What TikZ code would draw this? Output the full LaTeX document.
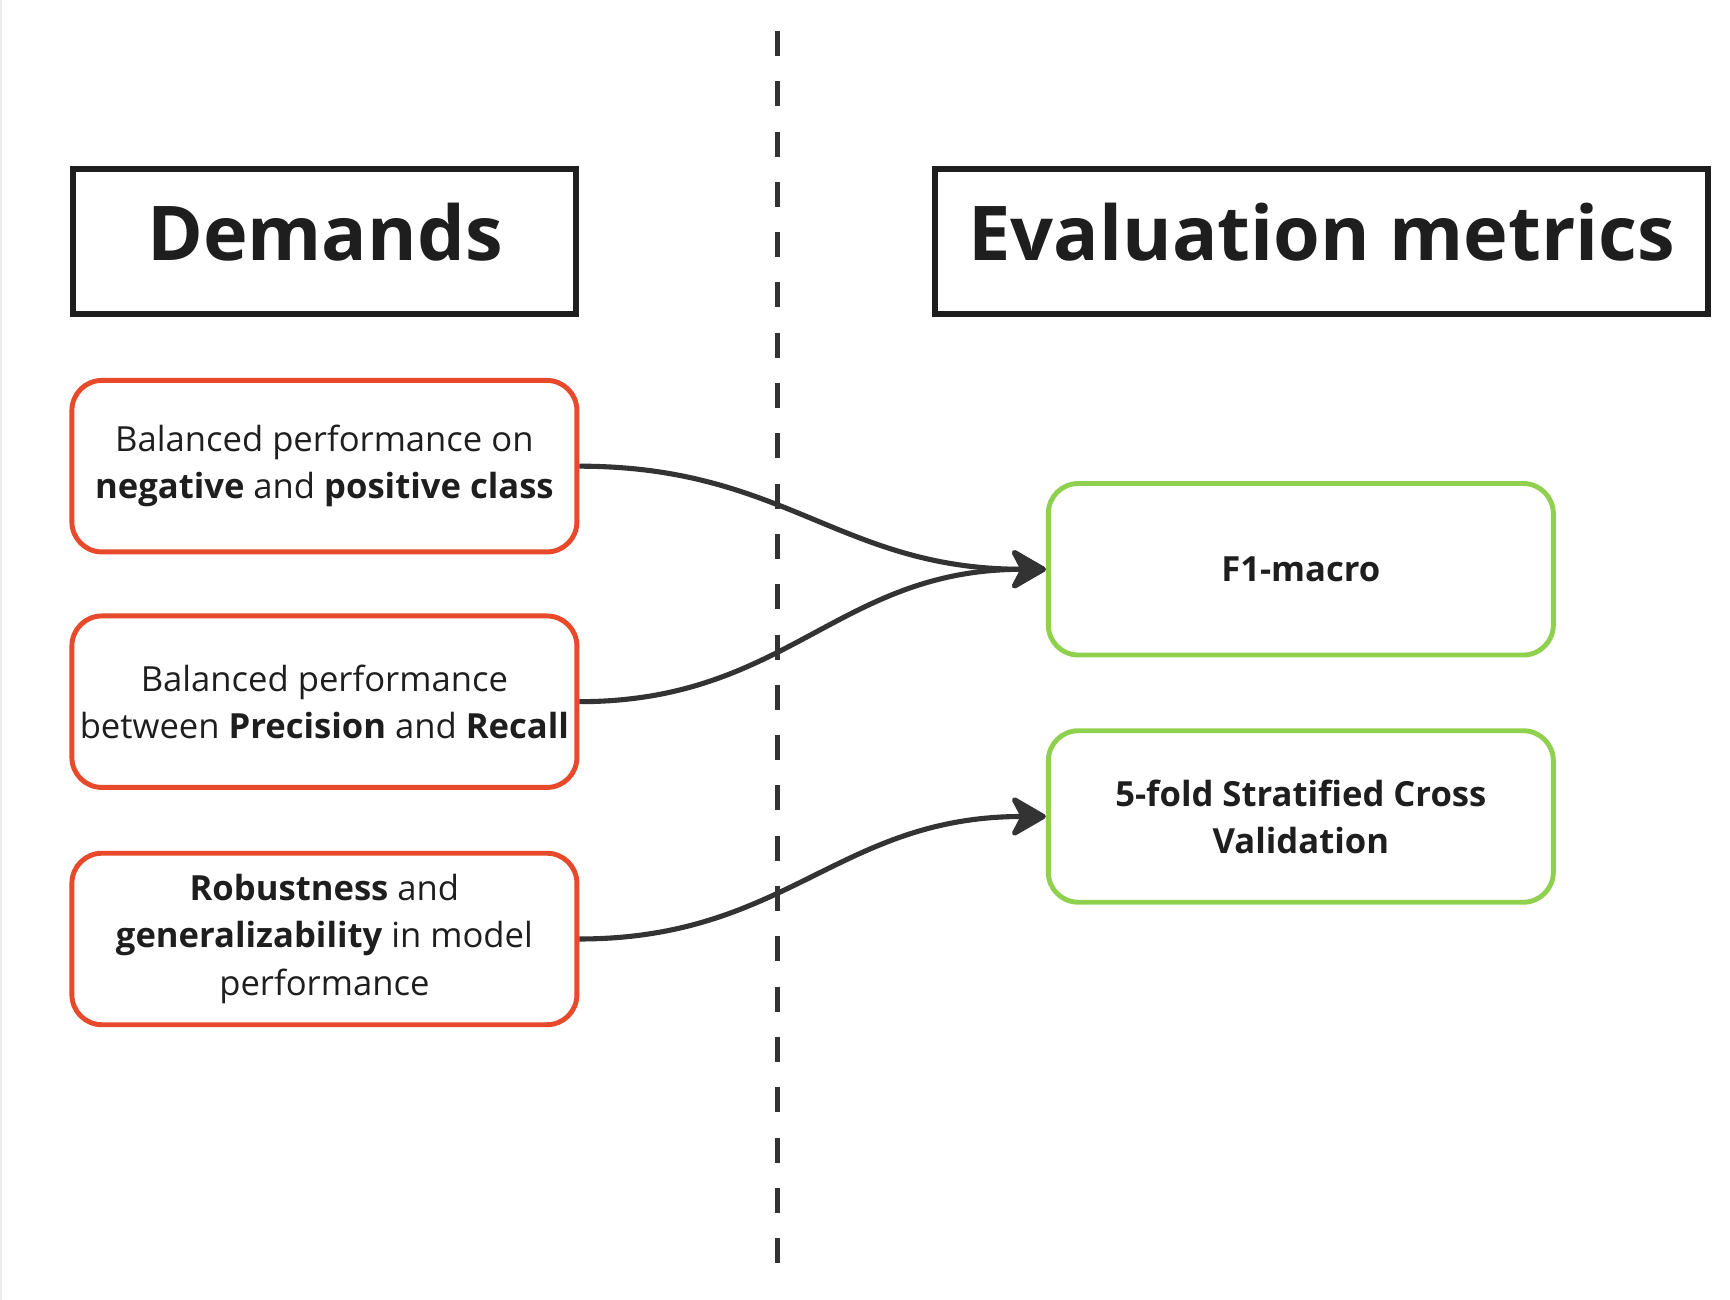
\documentclass[tikz,border=0pt]{standalone}
\usepackage{fontspec}
\setmainfont{Open Sans}
\usetikzlibrary{arrows.meta}
\definecolor{cred}{HTML}{e8492a}
\definecolor{cgreen}{HTML}{8fd14f}
\definecolor{cink}{HTML}{1e1e1e}
\definecolor{cline}{HTML}{333333}
\definecolor{cedge}{HTML}{ececec}

\begin{document}
\begin{tikzpicture}[
    every node/.style={font=\fontsize{9.85}{13.4}\selectfont, text=cink, align=center},
    title/.style={draw=cink, line width=1.7pt, minimum width=5.03cm, minimum height=1.45cm, text depth=5pt,
      font=\fontsize{21.5}{26}\selectfont\bfseries},
    demand/.style={draw=cred, line width=1.4pt, rounded corners=0.3cm, inner xsep=1pt, minimum width=5.05cm, minimum height=1.715cm},
    metric/.style={draw=cgreen, line width=1.4pt, rounded corners=0.3cm, minimum width=5.05cm, minimum height=1.715cm},
    link/.style={draw=cline, line width=1.45pt, -{Stealth[length=4mm, width=4.6mm, inset=1.2mm, round]}}]
  \useasboundingbox (0,0) rectangle (17.3,13);
  \draw[cedge, line width=0.5pt] (0.01,0) -- (0.01,13);
  % split between the two columns
  \draw[cline, line width=1.4pt, dash pattern=on 0.25cm off 0.253cm] (7.778,12.69) -- (7.778,0.3);
  % headers
  \node[title] (demands) at (3.249,10.589) {Demands};
  \node[title, minimum width=7.73cm] (metrics) at (13.218,10.589) {Evaluation metrics};
  % demands, left column
  \node[demand] (balclass) at (3.244,8.338) {Balanced performance on\\ \textbf{negative} and \textbf{positive class}};
  \node[demand] (balpr) at (3.244,5.983) {Balanced performance\\ between \textbf{Precision} and \textbf{Recall}};
  \node[demand] (robust) at (3.244,3.61) {\textbf{Robustness} and\\ \textbf{generalizability} in model\\ performance};
  % metrics, right column
  \node[metric] (fmacro) at (13.008,7.307) {\textbf{F1-macro}};
  \node[metric] (skfold) at (13.008,4.835) {\textbf{5-fold Stratified Cross}\\ \textbf{Validation}};
  \draw[link] (balclass.east) to[out=0, in=180, looseness=1.1] (fmacro.west);
  \draw[link] (balpr.east) to[out=0, in=180, looseness=1.1] (fmacro.west);
  \draw[link] (robust.east) to[out=0, in=180, looseness=1.1] (skfold.west);
\end{tikzpicture}
\end{document}
